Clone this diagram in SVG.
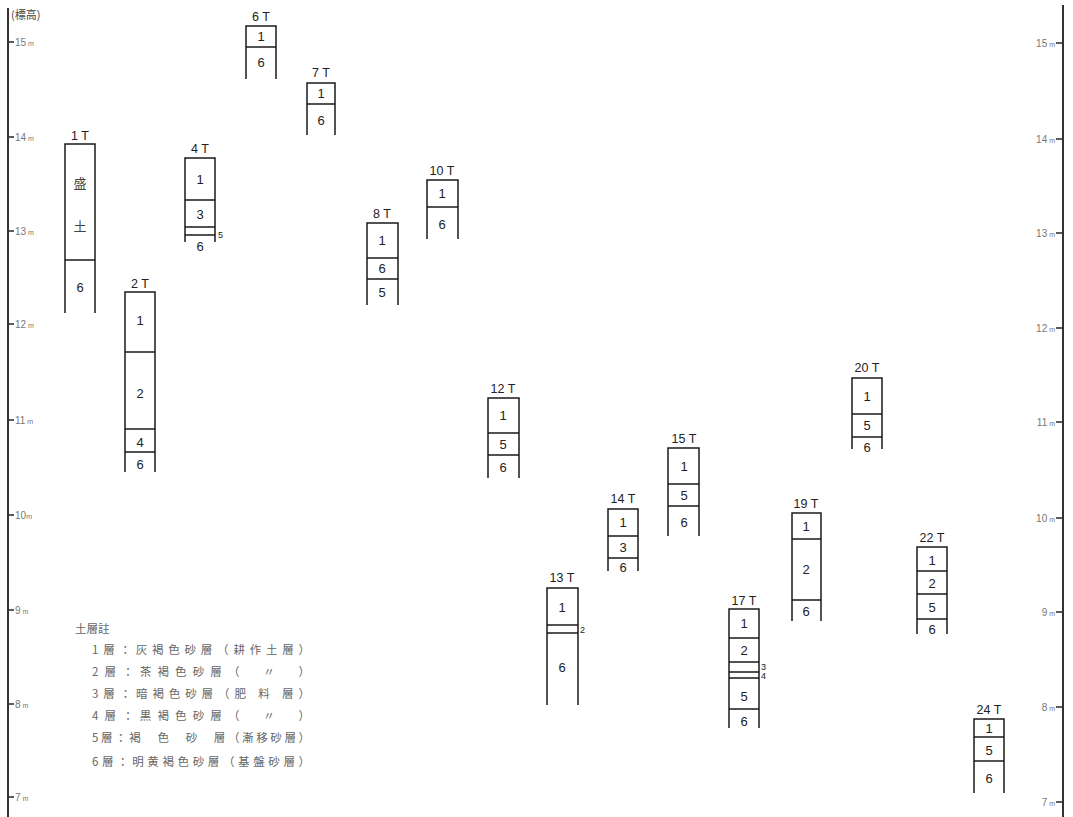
<svg xmlns="http://www.w3.org/2000/svg" width="1073" height="817" viewBox="0 0 1073 817">
<style>
.ax{stroke:#333;stroke-width:2;fill:none}
.tk{stroke:#333;stroke-width:1.6}
.tl{font-family:"Liberation Sans","DejaVu Sans",sans-serif;font-size:10px;fill:#777}
.tm{font-size:7px}
.col{stroke:#1a1a1a;stroke-width:1.5;fill:none}
.cn{font-family:"Liberation Sans","DejaVu Sans",sans-serif;font-size:13px;fill:#222;text-anchor:middle}
.lb{font-family:"Liberation Sans","DejaVu Sans",sans-serif;font-size:12.5px;fill:#222;text-anchor:middle}
.sm{font-family:"Liberation Sans","DejaVu Sans",sans-serif;font-size:9px;fill:#222}
.jp{font-family:"Noto Sans CJK JP","Noto Sans CJK SC",sans-serif;fill:#444}
.lg{font-family:"Noto Sans CJK JP","Noto Sans CJK SC",sans-serif;font-size:11.5px;fill:#666}
</style>
<rect width="1073" height="817" fill="#fff"/>
<g id="left-axis">
<line class="ax" x1="8" y1="8" x2="8" y2="817"/>
<text class="jp" x="11" y="19" font-size="11" fill="#777">(標高)</text>
<line class="tk" x1="8" y1="42" x2="14" y2="42"/><text class="tl" x="15" y="46">15<tspan class="tm"> m</tspan></text>
<line class="tk" x1="8" y1="137" x2="14" y2="137"/><text class="tl" x="15" y="141">14<tspan class="tm"> m</tspan></text>
<line class="tk" x1="8" y1="231" x2="14" y2="231"/><text class="tl" x="15" y="235">13<tspan class="tm"> m</tspan></text>
<line class="tk" x1="8" y1="324" x2="14" y2="324"/><text class="tl" x="15" y="328">12<tspan class="tm"> m</tspan></text>
<line class="tk" x1="8" y1="420" x2="14" y2="420"/><text class="tl" x="15" y="424">11<tspan class="tm"> m</tspan></text>
<line class="tk" x1="8" y1="515" x2="14" y2="515"/><text class="tl" x="15" y="519">10<tspan class="tm">m</tspan></text>
<line class="tk" x1="8" y1="610" x2="14" y2="610"/><text class="tl" x="15" y="614">9<tspan class="tm"> m</tspan></text>
<line class="tk" x1="8" y1="704" x2="14" y2="704"/><text class="tl" x="15" y="708">8<tspan class="tm"> m</tspan></text>
<line class="tk" x1="8" y1="797" x2="14" y2="797"/><text class="tl" x="15" y="801">7<tspan class="tm"> m</tspan></text>
</g>
<g id="right-axis">
<line class="ax" x1="1063" y1="5" x2="1063" y2="817"/>
<g text-anchor="end">
<line class="tk" x1="1056" y1="43" x2="1063" y2="43"/><text class="tl" x="1055" y="47" text-anchor="end">15<tspan class="tm"> m</tspan></text>
<line class="tk" x1="1056" y1="139" x2="1063" y2="139"/><text class="tl" x="1055" y="143" text-anchor="end">14<tspan class="tm"> m</tspan></text>
<line class="tk" x1="1056" y1="233" x2="1063" y2="233"/><text class="tl" x="1055" y="237" text-anchor="end">13<tspan class="tm"> m</tspan></text>
<line class="tk" x1="1056" y1="328" x2="1063" y2="328"/><text class="tl" x="1055" y="332" text-anchor="end">12<tspan class="tm"> m</tspan></text>
<line class="tk" x1="1056" y1="422" x2="1063" y2="422"/><text class="tl" x="1055" y="426" text-anchor="end">11<tspan class="tm"> m</tspan></text>
<line class="tk" x1="1056" y1="518" x2="1063" y2="518"/><text class="tl" x="1055" y="522" text-anchor="end">10<tspan class="tm"> m</tspan></text>
<line class="tk" x1="1056" y1="612" x2="1063" y2="612"/><text class="tl" x="1055" y="616" text-anchor="end">9<tspan class="tm"> m</tspan></text>
<line class="tk" x1="1056" y1="707" x2="1063" y2="707"/><text class="tl" x="1055" y="711" text-anchor="end">8<tspan class="tm"> m</tspan></text>
<line class="tk" x1="1056" y1="802" x2="1063" y2="802"/><text class="tl" x="1055" y="806" text-anchor="end">7<tspan class="tm"> m</tspan></text>
</g>
</g>
<g id="col-1T">
<text class="lb" x="80" y="140">1 T</text>
<path class="col" d="M65 313V144H95V313M65 260H95"/>
<text class="jp" x="80" y="188" font-size="13" text-anchor="middle">盛</text>
<text class="jp" x="80" y="231" font-size="13" text-anchor="middle">土</text>
<text class="cn" x="80" y="292">6</text>
</g>
<g id="col-2T">
<text class="lb" x="140" y="288">2 T</text>
<path class="col" d="M125 472V292H155V472M125 352H155M125 429H155M125 452H155"/>
<text class="cn" x="140" y="325">1</text>
<text class="cn" x="140" y="398">2</text>
<text class="cn" x="140" y="447">4</text>
<text class="cn" x="140" y="469">6</text>
</g>
<g id="col-4T">
<text class="lb" x="200" y="153">4 T</text>
<path class="col" d="M185 242V158H215V242M185 200H215M185 227H215M185 235H215"/>
<text class="cn" x="200" y="184">1</text>
<text class="cn" x="200" y="219">3</text>
<text class="sm" x="218" y="238" font-size="11">5</text>
<text class="cn" x="200" y="251">6</text>
</g>
<g id="col-6T">
<text class="lb" x="261" y="21">6 T</text>
<path class="col" d="M246 79V26H276V79M246 47H276"/>
<text class="cn" x="261" y="41">1</text>
<text class="cn" x="261" y="67">6</text>
</g>
<g id="col-7T">
<text class="lb" x="321" y="77">7 T</text>
<path class="col" d="M307 135V83H335V135M307 104H335"/>
<text class="cn" x="321" y="98">1</text>
<text class="cn" x="321" y="125">6</text>
</g>
<g id="col-8T">
<text class="lb" x="382" y="218">8 T</text>
<path class="col" d="M367 305V223H398V305M367 258H398M367 279H398"/>
<text class="cn" x="382" y="245">1</text>
<text class="cn" x="382" y="273">6</text>
<text class="cn" x="382" y="297">5</text>
</g>
<g id="col-10T">
<text class="lb" x="442" y="175">10 T</text>
<path class="col" d="M427 239V180H458V239M427 207H458"/>
<text class="cn" x="442" y="198">1</text>
<text class="cn" x="442" y="229">6</text>
</g>
<g id="col-12T">
<text class="lb" x="503" y="393">12 T</text>
<path class="col" d="M488 478V398H519V478M488 433H519M488 455H519"/>
<text class="cn" x="503" y="420">1</text>
<text class="cn" x="503" y="449">5</text>
<text class="cn" x="503" y="472">6</text>
</g>
<g id="col-13T">
<text class="lb" x="562" y="582">13 T</text>
<path class="col" d="M547 705V588H578V705M547 625H578M547 633H578"/>
<text class="cn" x="562" y="612">1</text>
<text class="sm" x="580" y="633" font-size="8">2</text>
<text class="cn" x="562" y="672">6</text>
</g>
<g id="col-14T">
<text class="lb" x="623" y="503">14 T</text>
<path class="col" d="M608 571V509H638V571M608 536H638M608 558H638"/>
<text class="cn" x="623" y="527">1</text>
<text class="cn" x="623" y="552">3</text>
<text class="cn" x="623" y="572">6</text>
</g>
<g id="col-15T">
<text class="lb" x="684" y="443">15 T</text>
<path class="col" d="M668 536V448H699V536M668 484H699M668 506H699"/>
<text class="cn" x="684" y="471">1</text>
<text class="cn" x="684" y="500">5</text>
<text class="cn" x="684" y="527">6</text>
</g>
<g id="col-17T">
<text class="lb" x="744" y="605">17 T</text>
<path class="col" d="M729 728V609H759V728M729 638H759M729 662H759M729 672H759M729 678H759M729 709H759"/>
<text class="cn" x="744" y="628">1</text>
<text class="cn" x="744" y="655">2</text>
<text class="sm" x="761" y="670" font-size="8">3</text>
<text class="sm" x="761" y="679" font-size="8">4</text>
<text class="cn" x="744" y="701">5</text>
<text class="cn" x="744" y="726">6</text>
</g>
<g id="col-19T">
<text class="lb" x="806" y="508">19 T</text>
<path class="col" d="M792 621V513H821V621M792 539H821M792 600H821"/>
<text class="cn" x="806" y="531">1</text>
<text class="cn" x="806" y="574">2</text>
<text class="cn" x="806" y="616">6</text>
</g>
<g id="col-20T">
<text class="lb" x="867" y="372">20 T</text>
<path class="col" d="M852 449V378H882V449M852 414H882M852 437H882"/>
<text class="cn" x="867" y="401">1</text>
<text class="cn" x="867" y="430">5</text>
<text class="cn" x="867" y="452">6</text>
</g>
<g id="col-22T">
<text class="lb" x="932" y="542">22 T</text>
<path class="col" d="M917 634V547H947V634M917 571H947M917 594H947M917 619H947"/>
<text class="cn" x="932" y="565">1</text>
<text class="cn" x="932" y="588">2</text>
<text class="cn" x="932" y="612">5</text>
<text class="cn" x="932" y="634">6</text>
</g>
<g id="col-24T">
<text class="lb" x="989" y="714">24 T</text>
<path class="col" d="M974 793V719H1004V793M974 737H1004M974 761H1004"/>
<text class="cn" x="989" y="733">1</text>
<text class="cn" x="989" y="755">5</text>
<text class="cn" x="989" y="783">6</text>
</g>
<g id="connectors"></g>
<g id="legend">
<text class="lg" x="75" y="633" font-size="12" fill="#555">土層註</text>
<text class="lg" x="92" y="654" textLength="218" lengthAdjust="spacing">1層：灰褐色砂層（耕作土層）</text>
<text class="lg" x="92" y="676" textLength="218" lengthAdjust="spacing">2層：茶褐色砂層（　〃　）</text>
<text class="lg" x="92" y="698" textLength="218" lengthAdjust="spacing">3層：暗褐色砂層（肥 料 層）</text>
<text class="lg" x="92" y="720" textLength="218" lengthAdjust="spacing">4層：黒褐色砂層（　〃　）</text>
<text class="lg" x="92" y="742" textLength="218" lengthAdjust="spacing">5層：褐　色　砂　層（漸移砂層）</text>
<text class="lg" x="92" y="766" textLength="218" lengthAdjust="spacing">6層：明黄褐色砂層（基盤砂層）</text>
</g>
</svg>
